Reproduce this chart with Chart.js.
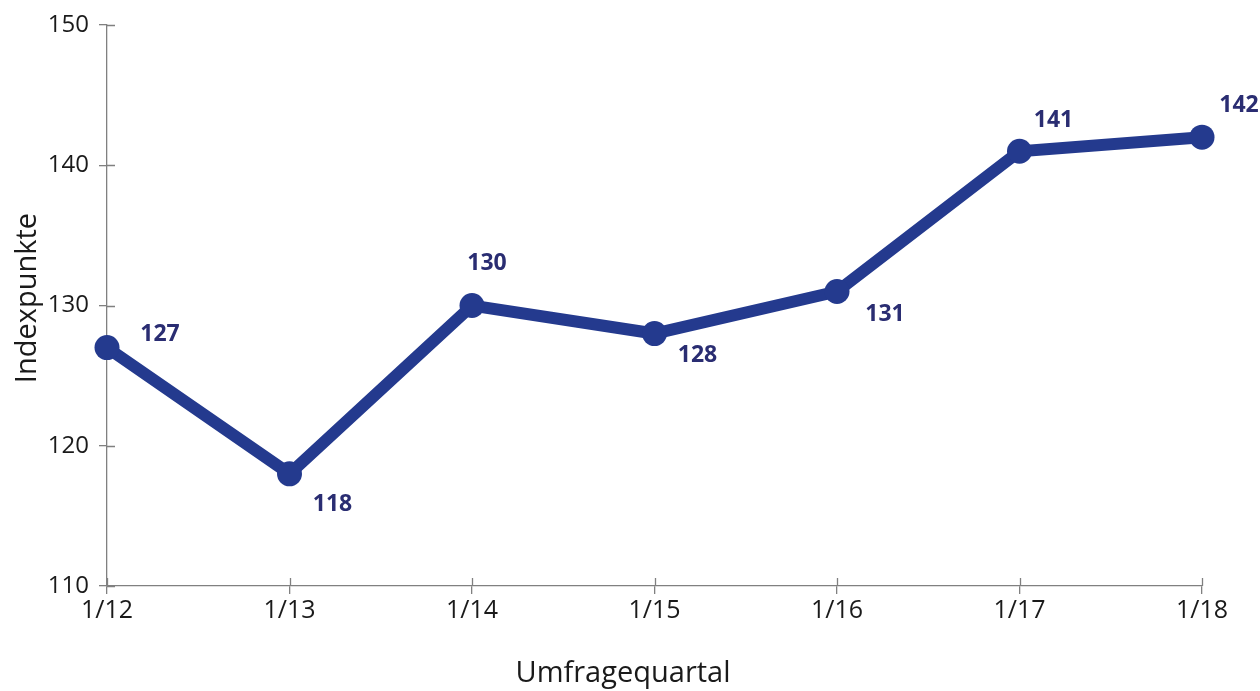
<!DOCTYPE html>
<html>
<head>
<meta charset="utf-8">
<script src="https://cdn.jsdelivr.net/npm/chart.js@4/dist/chart.umd.min.js"></script>
<style>
  html, body { margin: 0; padding: 0; background: #ffffff; }
  #wrap { width: 1260px; height: 691px; }
</style>
</head>
<body>
<div id="wrap"><canvas id="c" width="1260" height="691"></canvas></div>
<script>
// Index per survey quarter
const quarters = ['1/12', '1/13', '1/14', '1/15', '1/16', '1/17', '1/18'];
const indexValues = [127, 118, 130, 128, 131, 141, 142];
const yTicks = [110, 120, 130, 140, 150];
const xTitle = 'Umfragequartal';
const yTitle = 'Indexpunkte';

// Where each value label sits relative to its point (dx, dy in px)
const labelOffsets = [
  [53, -13], [43, 31], [15, -42], [43, 22], [48, 23], [34, -31], [37, -32]
];

const LINE_COLOR = '#243a8e';
const LABEL_COLOR = '#2a2d72';
const AXIS_COLOR = '#808080';
const TEXT_COLOR = '#1a1a1a';
const FONT = "'Open Sans', 'Liberation Sans', sans-serif";

// Value labels next to the points
const valueLabels = {
  id: 'valueLabels',
  afterDatasetsDraw(chart) {
    const ctx = chart.ctx;
    const meta = chart.getDatasetMeta(0);
    ctx.save();
    ctx.font = "bold 23px " + FONT;
    ctx.fillStyle = LABEL_COLOR;
    ctx.textAlign = 'center';
    ctx.textBaseline = 'middle';
    meta.data.forEach((pt, i) => {
      const [dx, dy] = labelOffsets[i];
      ctx.fillText(String(indexValues[i]), pt.x + dx, pt.y + dy);
    });
    ctx.restore();
  }
};

// Tick marks cross the axis lines (inner half drawn here), plus axis titles
const axisExtras = {
  id: 'axisExtras',
  afterDraw(chart) {
    const ctx = chart.ctx;
    const x = chart.scales.x, y = chart.scales.y;
    ctx.save();
    ctx.strokeStyle = AXIS_COLOR;
    ctx.lineWidth = 1.3;
    ctx.beginPath();
    y.ticks.forEach((t, i) => {
      const py = Math.round(y.getPixelForTick(i)) + 0.5;
      ctx.moveTo(y.right, py);
      ctx.lineTo(y.right + 8, py);
    });
    x.ticks.forEach((t, i) => {
      const px = Math.round(x.getPixelForTick(i)) + 0.5;
      ctx.moveTo(px, x.top);
      ctx.lineTo(px, x.top - 8);
    });
    ctx.stroke();

    ctx.fillStyle = TEXT_COLOR;
    ctx.font = "29px " + FONT;
    ctx.textAlign = 'center';
    ctx.textBaseline = 'middle';
    ctx.fillText(xTitle, 623, 674);
    ctx.translate(28, 298);
    ctx.rotate(-Math.PI / 2);
    ctx.fillText(yTitle, 0, 0);
    ctx.restore();
  }
};

new Chart(document.getElementById('c'), {
  type: 'line',
  data: {
    labels: quarters,
    datasets: [{
      data: indexValues,
      borderColor: LINE_COLOR,
      backgroundColor: LINE_COLOR,
      borderWidth: 12,
      pointRadius: 12.5,
      pointHoverRadius: 12.5,
      pointBackgroundColor: LINE_COLOR,
      pointBorderWidth: 0,
      tension: 0,
      clip: false
    }]
  },
  options: {
    responsive: false,
    animation: false,
    events: [],
    layout: { padding: { top: 25, right: 58, left: 0, bottom: 0 } },
    plugins: { legend: { display: false }, tooltip: { enabled: false } },
    scales: {
      x: {
        type: 'category',
        offset: false,
        grid: { display: true, drawOnChartArea: false, drawTicks: true, tickLength: 8, color: AXIS_COLOR, lineWidth: 1.3 },
        border: { display: true, color: AXIS_COLOR, width: 1.3 },
        ticks: { color: TEXT_COLOR, font: { family: FONT, size: 25 }, padding: 2, maxRotation: 0 },
        afterFit(s) { s.height = 105; }
      },
      y: {
        min: 110,
        max: 150,
        afterBuildTicks(s) { s.ticks = yTicks.map(v => ({ value: v })); },
        grid: { display: true, drawOnChartArea: false, drawTicks: true, tickLength: 8, color: AXIS_COLOR, lineWidth: 1.3 },
        border: { display: true, color: AXIS_COLOR, width: 1.3 },
        ticks: { color: TEXT_COLOR, font: { family: FONT, size: 24 }, padding: 10 },
        afterFit(s) { s.width = 107; }
      }
    }
  },
  plugins: [valueLabels, axisExtras]
});
</script>
</body>
</html>
